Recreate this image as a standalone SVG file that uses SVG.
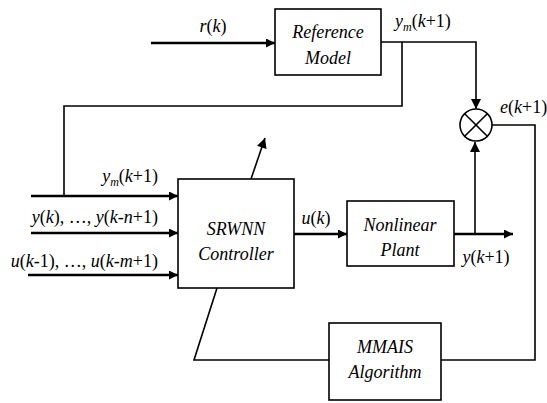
<svg xmlns="http://www.w3.org/2000/svg" width="547" height="403" viewBox="0 0 547 403">
<style>
text{font-size:18px;fill:#000}
.i{font-style:italic}
.box{fill:#fff;stroke:#000;stroke-width:1.6}
.ln{fill:none;stroke:#000;stroke-width:1.6}
.th{fill:none;stroke:#000;stroke-width:2.6}
.sub{font-size:12px;font-style:italic}
</style>
<defs>
<marker id="ah" viewBox="0 0 10 10" refX="10" refY="5" markerWidth="10" markerHeight="9" markerUnits="userSpaceOnUse" orient="auto">
<path d="M0,0 L10,5 L0,10 Z" fill="#000"/>
</marker>
<marker id="ahs" viewBox="0 0 10 10" refX="10" refY="5" markerWidth="11" markerHeight="10" markerUnits="userSpaceOnUse" orient="auto">
<path d="M0,0 L10,5 L0,10 Z" fill="#000"/>
</marker>
</defs>
<g id="connectors">
<line class="th" x1="151" y1="43" x2="275" y2="43" marker-end="url(#ah)"/>
<polyline class="ln" points="381,42 476,42 476,109" marker-end="url(#ahs)"/>
<polyline class="ln" points="402,42 402,106 64,106 64,196"/>
<line class="th" x1="31" y1="196" x2="178" y2="196" marker-end="url(#ah)"/>
<line class="th" x1="31" y1="233" x2="178" y2="233" marker-end="url(#ah)"/>
<line class="th" x1="28" y1="275" x2="178" y2="275" marker-end="url(#ah)"/>
<line class="th" x1="294" y1="234" x2="347" y2="234" marker-end="url(#ah)"/>
<line class="th" x1="454" y1="234" x2="513" y2="234" marker-end="url(#ah)"/>
<line class="ln" x1="475" y1="234" x2="475" y2="142" marker-end="url(#ahs)"/>
<polyline class="ln" points="492,125 535,125 535,360 441,360"/>
<polyline class="ln" points="329,360 194,360 217,288"/>
<line class="ln" x1="251" y1="179" x2="265" y2="138" marker-end="url(#ahs)"/>
</g>
<g id="reference-model">
<rect class="box" x="275" y="9" width="106" height="66"/>
<text style="font-family:Liberation Serif" font-style="italic" x="328" y="38" text-anchor="middle">Reference</text>
<text style="font-family:Liberation Serif" font-style="italic" x="328" y="64" text-anchor="middle">Model</text>
</g>
<g id="summer">
<circle class="ln" cx="476" cy="125" r="16"/>
<line class="ln" x1="464.7" y1="113.7" x2="487.3" y2="136.3"/>
<line class="ln" x1="487.3" y1="113.7" x2="464.7" y2="136.3"/>
</g>
<g id="srwnn-controller">
<rect class="box" x="178" y="179" width="116" height="109"/>
<text style="font-family:Liberation Serif" font-style="italic" x="236" y="235" text-anchor="middle">SRWNN</text>
<text style="font-family:Liberation Serif" font-style="italic" x="236" y="260" text-anchor="middle">Controller</text>
</g>
<g id="nonlinear-plant">
<rect class="box" x="347" y="201" width="107" height="65"/>
<text style="font-family:Liberation Serif" font-style="italic" x="400" y="231" text-anchor="middle">Nonlinear</text>
<text style="font-family:Liberation Serif" font-style="italic" x="400" y="256" text-anchor="middle">Plant</text>
</g>
<g id="mmais-algorithm">
<rect class="box" x="329" y="323" width="112" height="77"/>
<text style="font-family:Liberation Serif" font-style="italic" x="385" y="353" text-anchor="middle">MMAIS</text>
<text style="font-family:Liberation Serif" font-style="italic" x="385" y="378" text-anchor="middle">Algorithm</text>
</g>
<g id="labels">
<text style="font-family:Liberation Serif" x="213" y="32" text-anchor="middle"><tspan font-style="italic">r</tspan>(<tspan font-style="italic">k</tspan>)</text>
<text style="font-family:Liberation Serif" x="395" y="27"><tspan font-style="italic">y</tspan><tspan font-style="italic" font-size="12" dy="4">m</tspan><tspan dy="-4">(</tspan><tspan font-style="italic">k</tspan>+1)</text>
<text style="font-family:Liberation Serif" x="500" y="113"><tspan font-style="italic">e</tspan>(<tspan font-style="italic">k</tspan>+1)</text>
<text style="font-family:Liberation Serif" x="158" y="182" text-anchor="end"><tspan font-style="italic">y</tspan><tspan font-style="italic" font-size="12" dy="4">m</tspan><tspan dy="-4">(</tspan><tspan font-style="italic">k</tspan>+1)</text>
<text style="font-family:Liberation Serif" x="158" y="223" text-anchor="end"><tspan font-style="italic">y</tspan>(<tspan font-style="italic">k</tspan>), …, <tspan font-style="italic">y</tspan>(<tspan font-style="italic">k</tspan>-<tspan font-style="italic">n</tspan>+1)</text>
<text style="font-family:Liberation Serif" x="158" y="267" text-anchor="end"><tspan font-style="italic">u</tspan>(<tspan font-style="italic">k</tspan>-1), …, <tspan font-style="italic">u</tspan>(<tspan font-style="italic">k</tspan>-<tspan font-style="italic">m</tspan>+1)</text>
<text style="font-family:Liberation Serif" x="316" y="224" text-anchor="middle"><tspan font-style="italic">u</tspan>(<tspan font-style="italic">k</tspan>)</text>
<text style="font-family:Liberation Serif" x="486" y="263" text-anchor="middle"><tspan font-style="italic">y</tspan>(<tspan font-style="italic">k</tspan>+1)</text>
</g>
</svg>
